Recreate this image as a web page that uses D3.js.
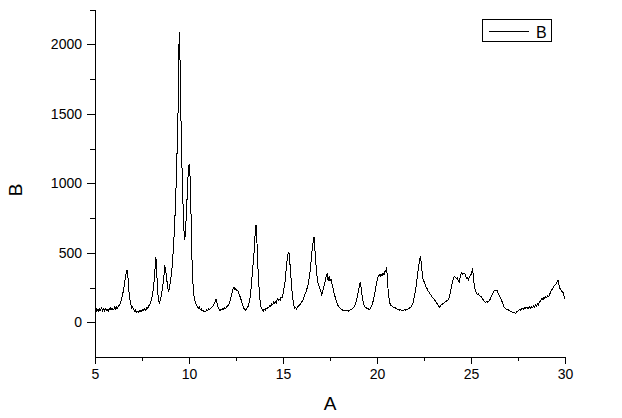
<!DOCTYPE html>
<html>
<head>
<meta charset="utf-8">
<script src="https://cdn.jsdelivr.net/npm/d3@7"></script>
<style>
  html, body { margin: 0; padding: 0; background: #fff; }
  svg { display: block; }
  text { font-family: "Liberation Sans", Arial, sans-serif; fill: #000; }
</style>
</head>
<body>
<svg id="chart" width="622" height="418"></svg>
<script>
// ---- data ----
const angle = [
5.00,5.05,5.10,5.15,5.20,5.25,5.30,5.35,5.40,5.45,5.50,5.55,5.60,5.65,5.70,5.75,5.80,5.85,5.90,5.95,
6.00,6.05,6.10,6.15,6.20,6.25,6.30,6.35,6.40,6.45,6.50,6.55,6.60,6.65,6.70,6.73,6.76,6.80,6.85,6.90,6.95,
7.00,7.05,7.10,7.15,7.20,7.25,7.30,7.35,7.40,7.45,7.50,7.55,7.60,7.65,7.70,7.75,7.80,7.85,7.90,7.95,
8.00,8.05,8.10,8.15,8.20,8.24,8.28,8.32,8.37,8.42,8.47,8.52,8.57,8.62,8.67,8.71,8.75,8.80,8.85,8.90,8.95,8.98,
9.03,9.08,9.13,9.18,9.23,9.28,9.33,9.37,9.40,9.42,9.45,9.48,9.50,9.52,9.55,9.58,9.62,9.67,9.72,9.76,9.80,9.85,9.90,9.95,9.99,
10.02,10.04,10.08,10.12,10.16,10.20,10.25,10.30,10.35,10.40,10.45,10.50,10.55,10.60,10.65,10.70,10.75,10.80,10.85,10.90,10.95,
11.00,11.05,11.10,11.15,11.20,11.25,11.30,11.35,11.40,11.44,11.48,11.52,11.56,11.60,11.65,11.70,11.75,11.80,11.85,11.90,11.95,
12.00,12.05,12.10,12.15,12.20,12.25,12.30,12.35,12.40,12.45,12.50,12.55,12.60,12.65,12.70,12.75,12.80,12.85,12.90,12.95,
13.00,13.05,13.10,13.15,13.20,13.25,13.30,13.35,13.40,13.45,13.50,13.55,13.58,13.62,13.66,13.70,13.75,13.80,13.85,13.90,13.95,
14.00,14.05,14.10,14.15,14.20,14.25,14.30,14.35,14.40,14.45,14.50,14.55,14.60,14.65,14.70,14.75,14.80,14.85,14.90,14.95,
15.00,15.05,15.10,15.15,15.20,15.25,15.30,15.33,15.37,15.42,15.47,15.52,15.57,15.62,15.67,15.72,15.77,15.82,15.87,15.92,15.97,
16.02,16.07,16.12,16.17,16.22,16.27,16.32,16.37,16.42,16.47,16.52,16.57,16.62,16.66,16.70,16.75,16.80,16.85,16.90,16.95,
17.00,17.05,17.10,17.15,17.20,17.25,17.30,17.35,17.40,17.45,17.50,17.55,17.60,17.65,17.70,17.75,17.80,17.85,17.90,17.95,
18.00,18.05,18.10,18.15,18.20,18.25,18.30,18.35,18.40,18.45,18.50,18.55,18.60,18.65,18.70,18.75,18.80,18.85,18.90,18.95,
19.00,19.05,19.10,19.13,19.17,19.22,19.27,19.32,19.37,19.42,19.47,19.52,19.57,19.62,19.67,19.72,19.77,19.82,19.87,19.92,19.97,
20.02,20.07,20.12,20.17,20.22,20.27,20.32,20.37,20.42,20.47,20.52,20.55,20.60,20.65,20.70,20.75,20.80,20.85,20.90,20.95,
21.00,21.05,21.10,21.15,21.20,21.25,21.30,21.35,21.40,21.45,21.50,21.55,21.60,21.65,21.70,21.75,21.80,21.85,21.90,21.95,
22.00,22.05,22.10,22.15,22.20,22.25,22.30,22.33,22.37,22.42,22.47,22.52,22.57,22.62,22.67,22.72,22.77,22.82,22.87,22.92,22.97,
23.02,23.07,23.12,23.17,23.22,23.27,23.32,23.37,23.42,23.47,23.52,23.57,23.62,23.67,23.72,23.77,23.82,23.87,23.92,23.97,
24.02,24.07,24.12,24.17,24.22,24.27,24.32,24.37,24.42,24.47,24.52,24.57,24.62,24.67,24.72,24.77,24.82,24.87,24.92,24.97,
25.02,25.07,25.10,25.14,25.18,25.23,25.28,25.33,25.38,25.43,25.48,25.53,25.58,25.63,25.68,25.73,25.78,25.83,25.88,25.93,25.98,
26.03,26.08,26.13,26.18,26.23,26.28,26.33,26.38,26.43,26.48,26.53,26.58,26.63,26.68,26.73,26.78,26.83,26.88,26.93,26.98,
27.03,27.08,27.13,27.18,27.23,27.28,27.33,27.38,27.43,27.48,27.53,27.58,27.63,27.68,27.73,27.78,27.83,27.88,27.93,27.98,
28.03,28.08,28.13,28.18,28.23,28.28,28.33,28.38,28.43,28.48,28.53,28.58,28.63,28.68,28.73,28.78,28.83,28.88,28.93,28.98,
29.03,29.08,29.13,29.18,29.23,29.28,29.33,29.38,29.43,29.48,29.53,29.58,29.63,29.66,29.70,29.75,29.80,29.85,29.90,29.95,30.00
];
const intensity = [
85,100,80,95,78,98,88,102,82,96,84,100,86,92,80,100,90,106,88,98,
92,110,95,108,100,118,124,140,160,190,220,260,310,350,376,360,310,230,170,130,103,
110,92,80,88,72,80,70,85,76,90,78,92,84,98,88,104,100,115,125,140,
165,195,240,300,400,468,380,240,170,139,160,190,230,280,340,412,380,330,270,220,240,268,
310,370,440,560,680,850,1050,1250,1500,1510,1850,2085,2080,1900,1700,1400,1150,900,700,590,620,750,900,1050,1130,
1140,1100,950,700,450,300,200,160,140,120,115,100,108,92,95,80,88,75,82,78,90,
85,95,92,100,105,112,120,135,150,165,145,120,100,92,85,95,88,100,92,104,98,
110,115,125,140,165,190,220,240,250,230,242,225,228,210,190,170,150,125,105,92,
88,95,105,115,140,175,240,320,400,480,600,700,690,560,420,300,200,130,100,92,80,
95,85,100,96,110,105,120,115,130,125,145,135,150,140,168,155,165,160,180,175,
200,240,280,350,430,480,508,490,420,330,240,170,125,100,108,95,110,112,125,130,140,
150,160,180,200,215,240,260,300,345,400,480,545,590,616,520,420,340,290,270,245,
230,200,215,240,270,300,330,352,300,330,300,310,280,250,215,195,165,145,125,118,
105,100,92,90,85,88,80,86,82,84,80,85,90,95,100,105,112,130,150,180,
215,250,285,280,230,180,145,120,110,105,95,100,90,96,105,120,140,165,200,240,280,
310,330,340,330,345,335,355,340,365,370,396,300,220,160,130,120,115,110,105,108,
100,95,92,90,88,90,85,88,84,90,86,92,90,95,98,105,110,120,130,160,
190,230,280,340,390,430,470,460,400,330,300,290,270,250,240,225,215,205,195,185,175,
168,160,150,140,130,120,108,115,125,130,136,140,145,150,155,160,170,190,230,260,
290,320,330,325,315,320,300,290,320,350,357,345,355,350,330,315,320,305,330,335,
350,381,370,300,260,230,215,200,205,195,190,185,175,165,155,148,140,150,145,150,155,
170,185,200,215,225,232,225,230,215,200,185,170,155,140,120,105,100,95,88,90,
84,80,78,75,72,70,66,60,75,80,85,92,88,95,100,92,105,98,110,100,
108,98,115,100,112,105,120,110,125,118,132,125,140,150,160,175,160,180,170,185,
175,190,185,200,215,230,240,250,262,270,275,290,300,290,250,240,230,220,215,190,165
];
const xTickValues = [5, 10, 15, 20, 25, 30];
const xMinorTicks = [7.5, 12.5, 17.5, 22.5, 27.5];
const yTickValues = [0, 500, 1000, 1500, 2000];
const yMinorTicks = [250, 750, 1250, 1750, 2250];
const xLabel = "A";
const yLabel = "B";
const seriesName = "B";

// ---- drawing ----
const svg = d3.select("#chart");
const x = d3.scaleLinear().domain([5, 30]).range([95, 565]);
const y = d3.scaleLinear().domain([-250, 2250]).range([357, 9.5]);

const points = angle.map((a, i) => [a, intensity[i]]);

// x axis
const gx = svg.append("g").attr("transform", "translate(0,357)");
gx.call(d3.axisBottom(x).tickValues(xTickValues).tickSize(7).tickSizeOuter(0).tickPadding(5).tickFormat(d3.format("d")));
gx.append("g").call(d3.axisBottom(x).tickValues(xMinorTicks).tickSize(4).tickSizeOuter(0).tickFormat(""))
  .select(".domain").remove();

// y axis
const gy = svg.append("g").attr("transform", "translate(95,0)");
gy.call(d3.axisLeft(y).tickValues(yTickValues).tickSize(8).tickSizeOuter(0).tickPadding(5).tickFormat(d3.format("d")));
gy.append("g").call(d3.axisLeft(y).tickValues(yMinorTicks).tickSize(5).tickSizeOuter(0).tickFormat(""))
  .select(".domain").remove();

svg.selectAll(".domain, .tick line").attr("stroke", "#000").attr("shape-rendering", "crispEdges");
svg.selectAll(".tick text").attr("font-size", 14).attr("font-family", "'Liberation Sans', Arial, sans-serif").attr("fill", "#000");

// line
svg.append("path")
  .datum(points)
  .attr("fill", "none")
  .attr("stroke", "#000")
  .attr("stroke-width", 1)
  .attr("shape-rendering", "crispEdges")
  .attr("d", d3.line().x(d => x(d[0])).y(d => y(d[1])));

// axis titles
svg.append("text").attr("x", 330).attr("y", 410).attr("text-anchor", "middle")
  .attr("font-size", 19).text(xLabel);
svg.append("text").attr("transform", "translate(22,190) rotate(-90)").attr("text-anchor", "middle")
  .attr("font-size", 19).text(yLabel);

// legend
const lg = svg.append("g");
lg.append("rect").attr("x", 482.5).attr("y", 19.5).attr("width", 69).attr("height", 22)
  .attr("fill", "#fff").attr("stroke", "#000").attr("stroke-width", 1);
lg.append("line").attr("x1", 489).attr("x2", 529).attr("y1", 31.5).attr("y2", 31.5)
  .attr("stroke", "#000").attr("stroke-width", 1);
lg.append("text").attr("x", 536).attr("y", 38).attr("font-size", 16).text(seriesName);
</script>
</body>
</html>
